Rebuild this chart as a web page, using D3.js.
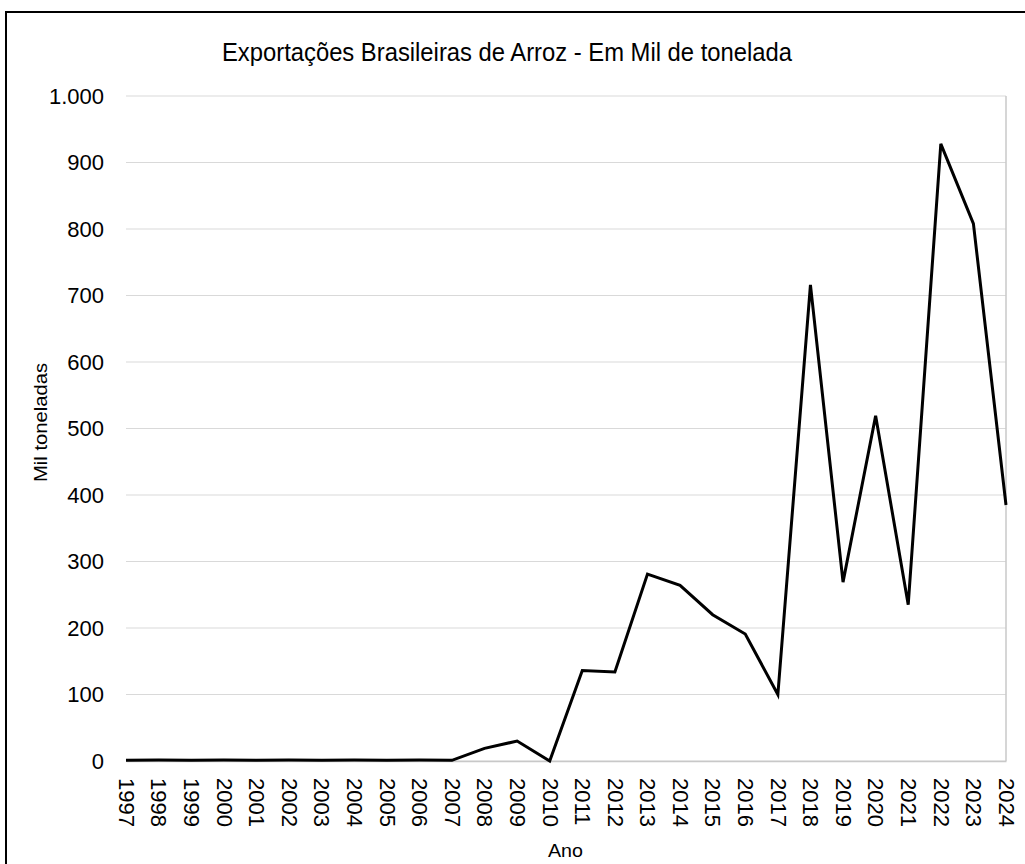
<!DOCTYPE html>
<html lang="pt">
<head>
<meta charset="utf-8">
<title>Exportações Brasileiras de Arroz</title>
<script src="https://d3js.org/d3.v7.min.js"></script>
<style>
  body { margin: 0; background: #fff; }
  text { fill: #000; }
</style>
</head>
<body>
<div id="chart"></div>
<script>
// anos e exportações (mil toneladas)
var years = ["1997","1998","1999","2000","2001","2002","2003","2004","2005","2006","2007",
  "2008","2009","2010","2011","2012","2013","2014","2015","2016","2017",
  "2018","2019","2020","2021","2022","2023","2024"];
var exports = [1, 1.5, 1, 1.5, 1, 1.5, 1, 1.5, 1, 1.5, 1,
  19, 30, 0, 136, 134, 281, 264, 220, 191, 100,
  716, 269, 519, 235, 928, 808, 385];
var yTicks = [0, 100, 200, 300, 400, 500, 600, 700, 800, 900, 1000];

var W = 1025, H = 864;
var margin = { top: 96, right: 19, bottom: 103, left: 126 };
var width = W - margin.left - margin.right,
    height = H - margin.top - margin.bottom;

var sans = "'Liberation Sans', Arial, sans-serif";

var svg = d3.select("#chart").append("svg")
  .attr("width", W).attr("height", H);

// outer frame
svg.append("rect")
  .attr("x", 6).attr("y", 12)
  .attr("width", W + 10).attr("height", H + 10)
  .attr("fill", "none").attr("stroke", "#000").attr("stroke-width", 2);

var g = svg.append("g")
  .attr("transform", "translate(" + margin.left + "," + margin.top + ")");

var x = d3.scalePoint().domain(years).range([0, width]);
var y = d3.scaleLinear().domain([0, 1000]).range([height, 0]);

// gridlines
g.append("g")
  .selectAll("line")
  .data(yTicks)
  .join("line")
  .attr("x1", 0).attr("x2", width)
  .attr("y1", d => y(d)).attr("y2", d => y(d))
  .attr("stroke", "#d9d9d9").attr("stroke-width", 1);

// right border of the plot area
g.append("line")
  .attr("x1", width).attr("x2", width)
  .attr("y1", 0).attr("y2", height)
  .attr("stroke", "#c8c8c8").attr("stroke-width", 1.5);

// y axis labels
var fmt = d => d3.format(",")(d).replace(/,/g, ".");
var yAxis = g.append("g")
  .call(d3.axisLeft(y).tickValues(yTicks).tickFormat(fmt).tickSize(0).tickPadding(22));
yAxis.select(".domain").remove();
yAxis.selectAll("text")
  .attr("font-family", sans).attr("font-size", 22).attr("fill", "#000");

// x axis labels
var xAxis = g.append("g")
  .attr("transform", "translate(0," + height + ")")
  .call(d3.axisBottom(x).tickSize(0));
xAxis.select(".domain").attr("stroke", "#c8c8c8").attr("stroke-width", 1.5);
xAxis.selectAll("text")
  .attr("font-family", sans).attr("font-size", 22).attr("fill", "#000")
  .attr("transform", "rotate(90)")
  .attr("text-anchor", "start")
  .attr("dy", "0.35em").attr("x", 17).attr("y", 0);

// line
g.append("path")
  .datum(exports)
  .attr("fill", "none")
  .attr("stroke", "#000")
  .attr("stroke-width", 3)
  .attr("stroke-linejoin", "miter")
  .attr("d", d3.line()
    .x((d, i) => x(years[i]))
    .y(d => y(d)));

// title (narrow face in the original, squeezed to its width)
svg.append("text")
  .attr("x", 222).attr("y", 61)
  .attr("font-family", sans).attr("font-size", 25)
  .attr("textLength", 570).attr("lengthAdjust", "spacingAndGlyphs")
  .text("Exportações Brasileiras de Arroz - Em Mil de tonelada");

// axis titles
svg.append("text")
  .attr("transform", "translate(47,482) rotate(-90)")
  .attr("font-family", sans).attr("font-size", 18)
  .attr("textLength", 119).attr("lengthAdjust", "spacingAndGlyphs")
  .text("Mil toneladas");

svg.append("text")
  .attr("x", 548).attr("y", 857)
  .attr("font-family", sans).attr("font-size", 19)
  .attr("textLength", 35).attr("lengthAdjust", "spacingAndGlyphs")
  .text("Ano");
</script>
</body>
</html>
